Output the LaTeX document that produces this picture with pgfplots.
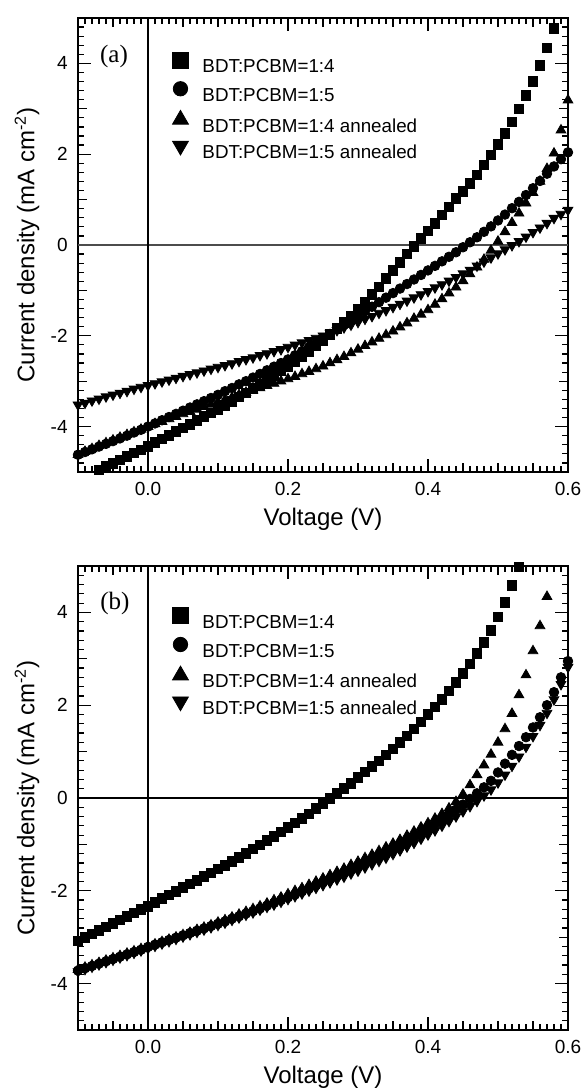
\documentclass[border=0pt]{standalone}
\usepackage{fontspec}
\setmainfont{Liberation Sans}
\newfontfamily\serif{Liberation Serif}
\usepackage{pgfplots}
\pgfplotsset{compat=1.18}

\tikzset{
  sq/.style={only marks, mark=square*, mark size=2.4pt, black},
  ci/.style={only marks, mark=*, mark size=2.4pt, black},
  ut/.style={only marks, mark=triangle*, mark size=2.8pt, black},
  dt/.style={only marks, mark=triangle*, mark size=2.8pt, black, mark options={rotate=180}},
}
\pgfplotsset{
  legend image code/.code={\draw[#1] plot coordinates {(0pt,3.3pt)};},
  jv/.style={
    scale only axis, width=245pt, anchor=south west,
    xmin=-0.1, xmax=0.6, ymin=-5, ymax=5,
    xtick={0,0.2,0.4,0.6}, xticklabels={0.0,0.2,0.4,0.6},
    ytick={-4,-2,0,2,4}, yticklabels={-4,-2,0,2,4},
    minor xtick={-0.1,-0.09,...,0.605},
    minor ytick={-5,-4.8,...,5.01},
    extra x ticks={-0.05,0.05,0.1,0.15,0.25,0.3,0.35,0.45,0.5,0.55},
    extra x tick labels={},
    extra y ticks={-3,-1,1,3}, extra y tick labels={},
    extra x tick style={grid=none, major tick length=4.5pt},
    extra y tick style={grid=none, major tick length=4.5pt},
    tick align=inside, major tick length=6.5pt, minor tick length=3pt,
    every tick/.style={black, line width=0.6pt},
    axis line style={line width=0.9pt},
    ticklabel style={font=\fontsize{9.5}{10}\selectfont},
    xticklabel style={anchor=north, inner sep=0pt, yshift=-5pt},
    yticklabel style={anchor=east, inner sep=0pt, xshift=-5pt},
    label style={font=\fontsize{12}{14}\selectfont},
    xlabel={Voltage (V)},
    ylabel={Current density (mA cm\textsuperscript{-2})},
    ylabel style={at={(axis description cs:-0.104,0.5)}, anchor=center},
    legend cell align=left,
    legend style={draw=none, fill=none, anchor=north west, inner sep=0pt,
      font=\fontsize{9.4}{10}\selectfont, row sep=2.5pt, column sep=7pt,
      nodes={inner sep=0pt, text height=8pt, text depth=2pt}},
  },
}

\begin{document}
\begin{tikzpicture}
\path[use as bounding box] (0,0) rectangle (291pt,545.5pt);

% ---------------- (a) ----------------
\begin{axis}[jv, at={(39pt,309.5pt)}, height=227pt,
  xlabel style={at={(axis description cs:0.5,-0.1046)}, anchor=center},
  legend style={at={(axis description cs:0.192,0.926)}}]
\addlegendimage{sq, mark size=4pt}\addlegendentry{BDT:PCBM=1:4}
\addlegendimage{ci, mark size=3.6pt}\addlegendentry{BDT:PCBM=1:5}
\addlegendimage{ut, mark size=4.6pt}\addlegendentry{BDT:PCBM=1:4 annealed}
\addlegendimage{dt, mark size=4.6pt}\addlegendentry{BDT:PCBM=1:5 annealed}
\draw[black!70, line width=1pt] (axis cs:-0.1,0) -- (axis cs:0.6,0);
\draw[black, line width=0.7pt] (axis cs:0,-5) -- (axis cs:0,5);
% 1:4
\addplot[sq, forget plot] coordinates {
(-0.07,-4.95) (-0.06,-4.88) (-0.05,-4.81) (-0.04,-4.73) (-0.03,-4.66) (-0.02,-4.58) (-0.01,-4.51)
(0.00,-4.43) (0.01,-4.35) (0.02,-4.27) (0.03,-4.19) (0.04,-4.11) (0.05,-4.03) (0.06,-3.95) (0.07,-3.87) (0.08,-3.78) (0.09,-3.70)
(0.10,-3.62) (0.11,-3.53) (0.12,-3.44) (0.13,-3.35) (0.14,-3.26) (0.15,-3.16) (0.16,-3.07) (0.17,-2.97) (0.18,-2.87) (0.19,-2.77)
(0.20,-2.67) (0.21,-2.56) (0.22,-2.45) (0.23,-2.34) (0.24,-2.22) (0.25,-2.10) (0.26,-1.97) (0.27,-1.84) (0.28,-1.70) (0.29,-1.56)
(0.30,-1.41) (0.31,-1.25) (0.32,-1.09) (0.33,-0.92) (0.34,-0.74) (0.35,-0.56) (0.36,-0.38) (0.37,-0.20) (0.38,-0.03) (0.39,0.14)
(0.40,0.31) (0.41,0.48) (0.42,0.66) (0.43,0.84) (0.44,1.02) (0.45,1.18) (0.46,1.35) (0.47,1.54) (0.48,1.76) (0.49,1.98)
(0.50,2.22) (0.51,2.46) (0.52,2.71) (0.53,3.00) (0.54,3.29) (0.55,3.60) (0.56,3.95) (0.57,4.34) (0.58,4.77)};
% 1:5
\addplot[ci, forget plot] coordinates {
(-0.10,-4.62) (-0.09,-4.56) (-0.08,-4.50) (-0.07,-4.44) (-0.06,-4.38) (-0.05,-4.32) (-0.04,-4.26) (-0.03,-4.20) (-0.02,-4.13) (-0.01,-4.07)
(0.00,-4.00) (0.01,-3.93) (0.02,-3.86) (0.03,-3.79) (0.04,-3.72) (0.05,-3.65) (0.06,-3.58) (0.07,-3.51) (0.08,-3.44) (0.09,-3.37)
(0.10,-3.30) (0.11,-3.22) (0.12,-3.15) (0.13,-3.07) (0.14,-3.00) (0.15,-2.92) (0.16,-2.84) (0.17,-2.76) (0.18,-2.68) (0.19,-2.60)
(0.20,-2.52) (0.21,-2.43) (0.22,-2.34) (0.23,-2.25) (0.24,-2.16) (0.25,-2.06) (0.26,-1.96) (0.27,-1.86) (0.28,-1.76) (0.29,-1.66)
(0.30,-1.56) (0.31,-1.46) (0.32,-1.36) (0.33,-1.26) (0.34,-1.16) (0.35,-1.06) (0.36,-0.96) (0.37,-0.86) (0.38,-0.76) (0.39,-0.66)
(0.40,-0.56) (0.41,-0.46) (0.42,-0.36) (0.43,-0.26) (0.44,-0.16) (0.45,-0.05) (0.46,0.06) (0.47,0.17) (0.48,0.29) (0.49,0.41)
(0.50,0.54) (0.51,0.67) (0.52,0.81) (0.53,0.95) (0.54,1.10) (0.55,1.25) (0.56,1.41) (0.57,1.57) (0.58,1.73) (0.59,1.89) (0.60,2.04)};
% 1:4 annealed
\addplot[ut, forget plot] coordinates {
(-0.10,-4.62) (-0.09,-4.55) (-0.08,-4.49) (-0.07,-4.42) (-0.06,-4.36) (-0.05,-4.30) (-0.04,-4.24) (-0.03,-4.18) (-0.02,-4.12) (-0.01,-4.06)
(0.00,-4.00) (0.01,-3.94) (0.02,-3.89) (0.03,-3.83) (0.04,-3.78) (0.05,-3.72) (0.06,-3.67) (0.07,-3.62) (0.08,-3.56) (0.09,-3.51)
(0.10,-3.46) (0.11,-3.41) (0.12,-3.36) (0.13,-3.30) (0.14,-3.25) (0.15,-3.20) (0.16,-3.15) (0.17,-3.10) (0.18,-3.05) (0.19,-3.00)
(0.20,-2.95) (0.21,-2.90) (0.22,-2.84) (0.23,-2.79) (0.24,-2.73) (0.25,-2.67) (0.26,-2.60) (0.27,-2.53) (0.28,-2.46) (0.29,-2.38)
(0.30,-2.30) (0.31,-2.22) (0.32,-2.14) (0.33,-2.06) (0.34,-1.98) (0.35,-1.90) (0.36,-1.81) (0.37,-1.72) (0.38,-1.62) (0.39,-1.53)
(0.40,-1.43) (0.41,-1.31) (0.42,-1.19) (0.43,-1.06) (0.44,-0.93) (0.45,-0.79) (0.46,-0.64) (0.47,-0.49) (0.48,-0.32) (0.49,-0.12)
(0.50,0.08) (0.51,0.29) (0.52,0.49) (0.53,0.70) (0.54,0.92) (0.55,1.15) (0.56,1.40) (0.57,1.68) (0.58,2.02) (0.59,2.53) (0.60,3.19)};
% 1:5 annealed
\addplot[dt, forget plot] coordinates {
(-0.10,-3.52) (-0.09,-3.48) (-0.08,-3.43) (-0.07,-3.39) (-0.06,-3.34) (-0.05,-3.30) (-0.04,-3.26) (-0.03,-3.22) (-0.02,-3.17) (-0.01,-3.13)
(0.00,-3.09) (0.01,-3.05) (0.02,-3.01) (0.03,-2.97) (0.04,-2.93) (0.05,-2.89) (0.06,-2.85) (0.07,-2.81) (0.08,-2.77) (0.09,-2.73)
(0.10,-2.69) (0.11,-2.65) (0.12,-2.61) (0.13,-2.56) (0.14,-2.52) (0.15,-2.48) (0.16,-2.43) (0.17,-2.39) (0.18,-2.34) (0.19,-2.30)
(0.20,-2.25) (0.21,-2.20) (0.22,-2.15) (0.23,-2.10) (0.24,-2.05) (0.25,-2.00) (0.26,-1.94) (0.27,-1.88) (0.28,-1.82) (0.29,-1.76)
(0.30,-1.70) (0.31,-1.63) (0.32,-1.57) (0.33,-1.50) (0.34,-1.44) (0.35,-1.37) (0.36,-1.30) (0.37,-1.23) (0.38,-1.16) (0.39,-1.09)
(0.40,-1.02) (0.41,-0.94) (0.42,-0.87) (0.43,-0.79) (0.44,-0.71) (0.45,-0.63) (0.46,-0.55) (0.47,-0.46) (0.48,-0.37) (0.49,-0.28)
(0.50,-0.19) (0.51,-0.10) (0.52,-0.01) (0.53,0.08) (0.54,0.18) (0.55,0.28) (0.56,0.38) (0.57,0.48) (0.58,0.59) (0.59,0.68) (0.60,0.77)};
\node[font=\serif\fontsize{12.5}{14}\selectfont] at (axis description cs:0.0735,0.916) {(a)};
\end{axis}

% ---------------- (b) ----------------
\begin{axis}[jv, at={(39pt,30.5pt)}, height=232pt,
  xlabel style={at={(axis description cs:0.5,-0.1024)}, anchor=center},
  legend style={at={(axis description cs:0.192,0.911)}}]
\addlegendimage{sq, mark size=4pt}\addlegendentry{BDT:PCBM=1:4}
\addlegendimage{ci, mark size=3.6pt}\addlegendentry{BDT:PCBM=1:5}
\addlegendimage{ut, mark size=4.6pt}\addlegendentry{BDT:PCBM=1:4 annealed}
\addlegendimage{dt, mark size=4.6pt}\addlegendentry{BDT:PCBM=1:5 annealed}
\draw[black, line width=0.6pt] (axis cs:-0.1,0) -- (axis cs:0.6,0);
\draw[black, line width=0.6pt] (axis cs:0,-5) -- (axis cs:0,5);
% 1:4
\addplot[sq, forget plot] coordinates {
(-0.10,-3.08) (-0.09,-3.00) (-0.08,-2.93) (-0.07,-2.85) (-0.06,-2.78) (-0.05,-2.70) (-0.04,-2.63) (-0.03,-2.55) (-0.02,-2.48) (-0.01,-2.40)
(0.00,-2.33) (0.01,-2.25) (0.02,-2.17) (0.03,-2.09) (0.04,-2.01) (0.05,-1.93) (0.06,-1.85) (0.07,-1.77) (0.08,-1.69) (0.09,-1.61)
(0.10,-1.53) (0.11,-1.45) (0.12,-1.36) (0.13,-1.28) (0.14,-1.19) (0.15,-1.10) (0.16,-1.01) (0.17,-0.92) (0.18,-0.83) (0.19,-0.73)
(0.20,-0.64) (0.21,-0.54) (0.22,-0.44) (0.23,-0.34) (0.24,-0.23) (0.25,-0.12) (0.26,-0.01) (0.27,0.10) (0.28,0.21) (0.29,0.32)
(0.30,0.44) (0.31,0.56) (0.32,0.68) (0.33,0.80) (0.34,0.93) (0.35,1.06) (0.36,1.20) (0.37,1.34) (0.38,1.49) (0.39,1.64)
(0.40,1.80) (0.41,1.96) (0.42,2.13) (0.43,2.31) (0.44,2.49) (0.45,2.68) (0.46,2.89) (0.47,3.11) (0.48,3.35) (0.49,3.61)
(0.50,3.90) (0.51,4.22) (0.52,4.58) (0.53,4.98)};
% 1:5
\addplot[ci, forget plot] coordinates {
(-0.10,-3.72) (-0.09,-3.67) (-0.08,-3.62) (-0.07,-3.57) (-0.06,-3.52) (-0.05,-3.47) (-0.04,-3.42) (-0.03,-3.37) (-0.02,-3.32) (-0.01,-3.27)
(0.00,-3.21) (0.01,-3.16) (0.02,-3.11) (0.03,-3.06) (0.04,-3.01) (0.05,-2.96) (0.06,-2.91) (0.07,-2.86) (0.08,-2.81) (0.09,-2.76)
(0.10,-2.71) (0.11,-2.66) (0.12,-2.60) (0.13,-2.55) (0.14,-2.49) (0.15,-2.44) (0.16,-2.38) (0.17,-2.32) (0.18,-2.26) (0.19,-2.20)
(0.20,-2.14) (0.21,-2.08) (0.22,-2.01) (0.23,-1.95) (0.24,-1.88) (0.25,-1.82) (0.26,-1.75) (0.27,-1.68) (0.28,-1.61) (0.29,-1.54)
(0.30,-1.47) (0.31,-1.40) (0.32,-1.33) (0.33,-1.25) (0.34,-1.17) (0.35,-1.09) (0.36,-1.01) (0.37,-0.93) (0.38,-0.84) (0.39,-0.75)
(0.40,-0.66) (0.41,-0.56) (0.42,-0.46) (0.43,-0.36) (0.44,-0.25) (0.45,-0.14) (0.46,-0.02) (0.47,0.10) (0.48,0.23) (0.49,0.37)
(0.50,0.55) (0.51,0.74) (0.52,0.93) (0.53,1.12) (0.54,1.31) (0.55,1.52) (0.56,1.74) (0.57,2.00) (0.58,2.28) (0.59,2.60) (0.60,2.95)};
% 1:4 annealed
\addplot[ut, forget plot] coordinates {
(-0.10,-3.70) (-0.09,-3.65) (-0.08,-3.60) (-0.07,-3.55) (-0.06,-3.50) (-0.05,-3.45) (-0.04,-3.40) (-0.03,-3.35) (-0.02,-3.30) (-0.01,-3.25)
(0.00,-3.20) (0.01,-3.15) (0.02,-3.10) (0.03,-3.05) (0.04,-3.00) (0.05,-2.95) (0.06,-2.90) (0.07,-2.84) (0.08,-2.79) (0.09,-2.74)
(0.10,-2.68) (0.11,-2.63) (0.12,-2.57) (0.13,-2.51) (0.14,-2.45) (0.15,-2.39) (0.16,-2.33) (0.17,-2.27) (0.18,-2.20) (0.19,-2.14)
(0.20,-2.07) (0.21,-2.00) (0.22,-1.94) (0.23,-1.87) (0.24,-1.80) (0.25,-1.73) (0.26,-1.66) (0.27,-1.59) (0.28,-1.52) (0.29,-1.44)
(0.30,-1.37) (0.31,-1.29) (0.32,-1.22) (0.33,-1.14) (0.34,-1.06) (0.35,-0.98) (0.36,-0.90) (0.37,-0.81) (0.38,-0.72) (0.39,-0.63)
(0.40,-0.54) (0.41,-0.44) (0.42,-0.34) (0.43,-0.22) (0.44,-0.08) (0.45,0.08) (0.46,0.28) (0.47,0.50) (0.48,0.71) (0.49,0.94)
(0.50,1.20) (0.51,1.49) (0.52,1.82) (0.53,2.22) (0.54,2.65) (0.55,3.17) (0.56,3.71) (0.57,4.34)};
% 1:5 annealed
\addplot[dt, forget plot] coordinates {
(-0.10,-3.74) (-0.09,-3.69) (-0.08,-3.64) (-0.07,-3.59) (-0.06,-3.54) (-0.05,-3.49) (-0.04,-3.44) (-0.03,-3.39) (-0.02,-3.34) (-0.01,-3.29)
(0.00,-3.24) (0.01,-3.19) (0.02,-3.14) (0.03,-3.09) (0.04,-3.04) (0.05,-2.99) (0.06,-2.94) (0.07,-2.89) (0.08,-2.84) (0.09,-2.79)
(0.10,-2.74) (0.11,-2.69) (0.12,-2.63) (0.13,-2.58) (0.14,-2.52) (0.15,-2.47) (0.16,-2.41) (0.17,-2.35) (0.18,-2.30) (0.19,-2.24)
(0.20,-2.18) (0.21,-2.12) (0.22,-2.06) (0.23,-2.00) (0.24,-1.94) (0.25,-1.88) (0.26,-1.82) (0.27,-1.76) (0.28,-1.70) (0.29,-1.63)
(0.30,-1.57) (0.31,-1.50) (0.32,-1.43) (0.33,-1.36) (0.34,-1.29) (0.35,-1.21) (0.36,-1.13) (0.37,-1.05) (0.38,-0.97) (0.39,-0.88)
(0.40,-0.79) (0.41,-0.70) (0.42,-0.60) (0.43,-0.50) (0.44,-0.40) (0.45,-0.29) (0.46,-0.18) (0.47,-0.07) (0.48,0.05) (0.49,0.18)
(0.50,0.33) (0.51,0.50) (0.52,0.69) (0.53,0.89) (0.54,1.10) (0.55,1.33) (0.56,1.57) (0.57,1.83) (0.58,2.12) (0.59,2.45) (0.60,2.82)};
\node[font=\serif\fontsize{12.5}{14}\selectfont] at (axis description cs:0.0755,0.920) {(b)};
\end{axis}
\end{tikzpicture}
\end{document}
